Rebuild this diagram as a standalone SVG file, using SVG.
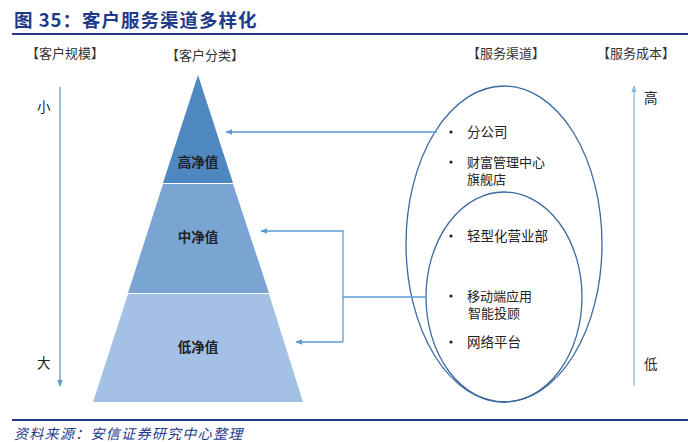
<svg xmlns="http://www.w3.org/2000/svg" width="688" height="442" viewBox="0 0 688 442">
<defs>
<style>
.t{font-family:"Noto Sans CJK SC","Liberation Sans",sans-serif;fill:#222;font-size:13.5px}
.h{font-family:"Noto Sans CJK SC","Liberation Sans",sans-serif;fill:#333;font-size:13px}
.b{font-weight:bold;text-anchor:middle}
.c{font-size:13px}
.conn{fill:none;stroke:#5b9bd5;stroke-width:1.3}
.ell{fill:none;stroke:#3a6aa0;stroke-width:1.3}
</style>
<marker id="ah" viewBox="0 0 10 10" refX="9" refY="5" markerWidth="7" markerHeight="7" markerUnits="userSpaceOnUse" orient="auto">
<path d="M0,1 L10,5 L0,9 z" fill="#5b9bd5"/>
</marker>
<marker id="ah2" viewBox="0 0 10 10" refX="9" refY="5" markerWidth="7" markerHeight="7" markerUnits="userSpaceOnUse" orient="auto">
<path d="M0,1 L10,5 L0,9 z" fill="#8fb8e0"/>
</marker>
</defs>
<rect width="688" height="442" fill="#fff"/>
<g id="title">
<text x="14" y="27" font-family="'Noto Sans CJK SC','Liberation Sans',sans-serif" font-size="18.5" font-weight="bold" fill="#1f3a8a" letter-spacing="1">图 35：客户服务渠道多样化</text>
<line x1="12" y1="34" x2="688" y2="34" stroke="#1f3a8a" stroke-width="2"/>
</g>
<g id="headers">
<text class="h" x="26" y="58">【客户规模】</text>
<text class="h" x="166" y="60">【客户分类】</text>
<text class="h" x="467" y="58">【服务渠道】</text>
<text class="h" x="597" y="58">【服务成本】</text>
</g>
<g id="size-axis">
<line class="conn" x1="60" y1="87" x2="60" y2="386" marker-end="url(#ah)"/>
<text class="t" x="37" y="112" font-size="13">小</text>
<text class="t" x="37" y="368" font-size="13">大</text>
</g>
<g id="cost-axis">
<line x1="634" y1="386" x2="634" y2="86" stroke="#8fb8e0" stroke-width="1.3" marker-end="url(#ah2)"/>
<text class="t" x="644" y="103" font-size="13">高</text>
<text class="t" x="644" y="369" font-size="13">低</text>
</g>
<g id="tier-high">
<polygon points="198,75 233,183 163,183" fill="#4f87c0"/>
<text class="t b" x="198" y="167">高净值</text>
</g>
<g id="tier-mid">
<polygon points="163,184 233,184 269,293 128,293" fill="#7aa5d3"/>
<text class="t b" x="198" y="242">中净值</text>
</g>
<g id="tier-low">
<polygon points="128,294 269,294 303,402 93,402" fill="#a4c0e4"/>
<text class="t b" x="198" y="352">低净值</text>
</g>
<g id="channels-outer">
<ellipse class="ell" cx="504" cy="244" rx="98" ry="158"/>
<circle cx="451" cy="132" r="1.6" fill="#222"/>
<text class="t" x="467" y="137">分公司</text>
<circle cx="451" cy="162" r="1.6" fill="#222"/>
<text class="t c" x="467" y="166.5">财富管理中心</text>
<text class="t c" x="467" y="184">旗舰店</text>
</g>
<g id="channels-inner">
<ellipse class="ell" cx="504" cy="297" rx="78" ry="105"/>
<circle cx="451" cy="236" r="1.6" fill="#222"/>
<text class="t" x="467" y="241">轻型化营业部</text>
<circle cx="451" cy="296" r="1.6" fill="#222"/>
<text class="t c" x="467" y="300.5">移动端应用</text>
<text class="t c" x="468" y="318">智能投顾</text>
<circle cx="451" cy="342" r="1.6" fill="#222"/>
<text class="t" x="467" y="347">网络平台</text>
</g>
<g id="connectors">
<line class="conn" x1="437" y1="132" x2="226" y2="132" marker-end="url(#ah)"/>
<polyline class="conn" points="426,297 343,297"/>
<polyline class="conn" points="343,342 343,231 261,231" marker-end="url(#ah)"/>
<line class="conn" x1="343" y1="342" x2="296" y2="342" marker-end="url(#ah)"/>
</g>
<g id="footer">
<line x1="12" y1="420" x2="688" y2="420" stroke="#1f3a8a" stroke-width="2"/>
<text x="14" y="439" font-family="'Noto Sans CJK SC','Liberation Sans',sans-serif" font-size="14" font-style="italic" fill="#1f3a8a" letter-spacing="1.3">资料来源：安信证券研究中心整理</text>
</g>
</svg>
